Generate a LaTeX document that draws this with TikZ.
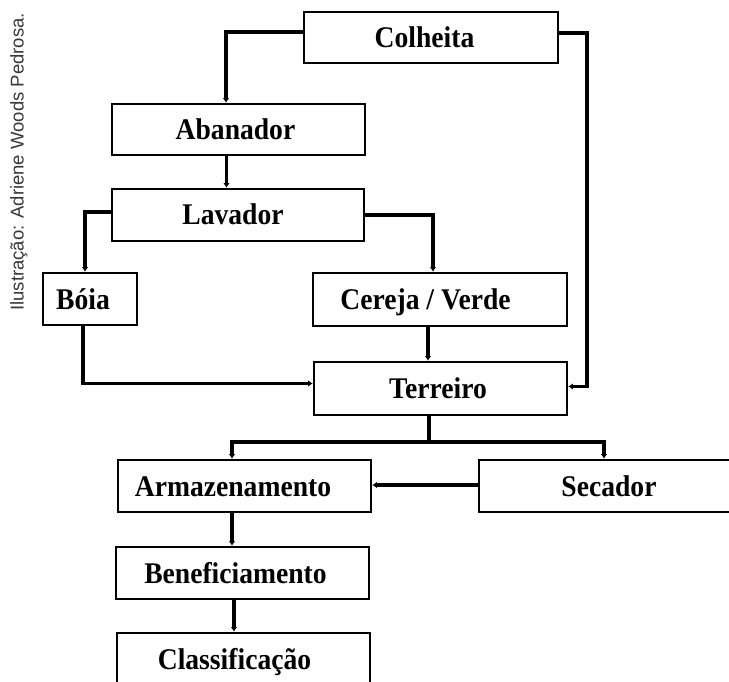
\documentclass[tikz,border=0pt]{standalone}
\usepackage{fontspec}
\setmainfont{Liberation Serif}
\newfontfamily\lblfont[FakeStretch=0.92]{Liberation Serif}
\newfontfamily\wmfont{Liberation Sans}
\usetikzlibrary{arrows.meta}
\definecolor{wmgray}{RGB}{55,55,55}
\tikzset{
  box/.style={draw=black, line width=2.7pt, rectangle, inner sep=0pt, fill=none},
  lbl/.style={anchor=base, inner sep=0pt, font=\lblfont\bfseries\fontsize{30}{32}\selectfont},
  conn/.style={draw=black, line width=3.8pt, line join=miter},
  arr/.style={conn, -{Latex[length=4.5pt,width=6.5pt]}},
}
\begin{document}
\begin{tikzpicture}[x=1pt,y=-1pt]
\useasboundingbox (0,0) rectangle (729,682);
\clip (0,0) rectangle (729,682);
\fill[white] (0,0) rectangle (729,682);

% watermark
\node[rotate=90, anchor=base, inner sep=0pt, text=wmgray, font=\wmfont\fontsize{18.5}{20}\selectfont] (wm) at (23.5,162) {Ilustração: Adriene Woods Pedrosa.};

% boxes
\node[box, minimum width=254pt, minimum height=51pt] (col) at (431,37.5) {};
\node[box, minimum width=253pt, minimum height=51pt] (aba) at (238.5,129.5) {};
\node[box, minimum width=252pt, minimum height=52pt] (lav) at (238,215) {};
\node[box, minimum width=94pt, minimum height=52pt] (boia) at (90,299) {};
\node[box, minimum width=254pt, minimum height=53pt] (cer) at (440,299.5) {};
\node[box, minimum width=253pt, minimum height=53pt] (ter) at (440.5,388.5) {};
\node[box, minimum width=253pt, minimum height=52pt] (arm) at (244.5,486) {};
\node[box, minimum width=291pt, minimum height=52pt] (sec) at (624.5,486) {};
\node[box, minimum width=253pt, minimum height=52pt] (ben) at (242.5,573) {};
\node[box, minimum width=253pt, minimum height=57pt] (cla) at (243.5,661.5) {};

% labels
\node[lbl] (tcol) at (424.5,47.5) {Colheita};
\node[lbl] (taba) at (235.5,139.5) {Abanador};
\node[lbl] (tlav) at (233,225) {Lavador};
\node[lbl] (tboia) at (83,309) {Bóia};
\node[lbl] (tcer) at (425.5,309.5) {Cereja / Verde};
\node[lbl] (tter) at (438,398.5) {Terreiro};
\node[lbl] (tarm) at (233,496) {Armazenamento};
\node[lbl] (tsec) at (609,496) {Secador};
\node[lbl] (tben) at (235.5,583) {Beneficiamento};
\node[lbl] (tcla) at (234.5,669) {Classificação};

% connectors
\draw[arr] ([yshift=5.5pt]col.west) -| ([xshift=-12.5pt]aba.north);
\draw[arr] ([yshift=4.5pt]col.east) -| ([xshift=19pt,yshift=2pt]ter.east) -- ([yshift=2pt]ter.east);
\draw[arr] ([xshift=-12pt]aba.south) -- ([xshift=-11.5pt]lav.north);
\draw[arr] ([yshift=3pt]lav.west) -| ([xshift=-5pt]boia.north);
\draw[arr] (lav.east) -| ([xshift=-7pt]cer.north);
\draw[arr] ([xshift=-7pt]boia.south) |- ([yshift=5pt]ter.west);
\draw[arr] ([xshift=-12pt]cer.south) -- ([xshift=-12.5pt]ter.north);
\coordinate (tj) at (429,442);
\draw[conn] ([xshift=-11.5pt]ter.south) -- (tj);
\draw[conn, {Latex[length=4.5pt,width=6.5pt]}-{Latex[length=4.5pt,width=6.5pt]}] ([xshift=-12.5pt]arm.north) |- (tj) -| ([xshift=-20.5pt]sec.north);
\draw[arr] ([yshift=1pt]sec.west) -- ([yshift=1pt]arm.east);
\draw[arr] ([xshift=-12.5pt]arm.south) -- ([xshift=-10.5pt]ben.north);
\draw[arr] ([xshift=-8.5pt]ben.south) -- ([xshift=-9.5pt]cla.north);
\end{tikzpicture}
\end{document}
